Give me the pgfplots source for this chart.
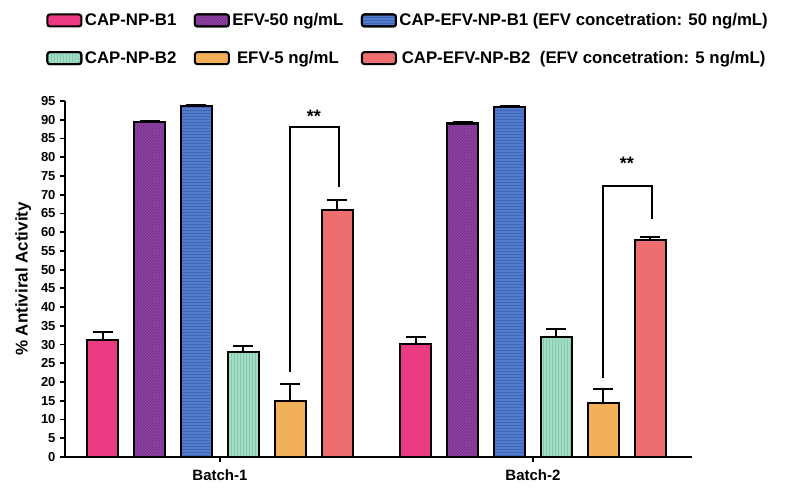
\documentclass[border=0pt]{standalone}
\usepackage{fontspec}
\setmainfont{Liberation Sans}
\usepackage{pgfplots}
\pgfplotsset{compat=1.18}
\usetikzlibrary{patterns}
\definecolor{cpink}{RGB}{233,58,130}
\definecolor{cpurple}{RGB}{150,72,168}
\definecolor{cpurpled}{RGB}{120,50,140}
\definecolor{cblue}{RGB}{82,122,205}
\definecolor{cblued}{RGB}{65,100,185}
\definecolor{cgreen}{RGB}{162,222,196}
\definecolor{cgreend}{RGB}{135,200,172}
\definecolor{corange}{RGB}{242,176,88}
\definecolor{cred}{RGB}{236,110,110}
\pgfplotsset{
  mybar/.style={ybar, bar width=0.1, bar shift=0pt, draw=black, line width=2.3pt,
    error bars/y dir=plus, error bars/y explicit,
    error bars/error bar style={line width=2pt, black},
    error bars/error mark options={rotate=90, mark size=10pt, line width=2pt, black}},
}
\begin{document}
\begin{tikzpicture}
\begin{axis}[
  scale only axis, width=627pt, height=356pt,
  xmin=0.505, xmax=2.508, ymin=0, ymax=95,
  axis lines=left, axis line style={-, line width=2.2pt},
  xtick={1,2}, xticklabels={Batch-1,Batch-2},
  ytick={0,5,...,95},
  tick style={black, line width=1.8pt},
  major tick length=5pt,
  tick align=outside,
  /pgf/number format/assume math mode=true,
  yticklabel style={font=\bfseries\fontsize{13}{13}\selectfont, xshift=-1pt},
  xticklabel style={font=\bfseries\fontsize{15}{15}\selectfont, yshift=-4pt},
  ylabel={\% Antiviral Activity},
  ylabel shift=3pt,
  ylabel style={font=\bfseries\fontsize{17}{17}\selectfont},
  legend columns=3,
  legend style={draw=none, fill=none, inner sep=0pt, at={(-0.030,1.253)}, anchor=north west,
    nodes={inner sep=2.5pt},
    font=\bfseries\fontsize{16.8}{16.8}\selectfont,
    /tikz/every even column/.append style={column sep=15pt},
    row sep=19pt},
  legend image code/.code={\draw[#1, draw=black, line width=2pt, rounded corners=2.5pt] (0pt,-6pt) rectangle (34pt,6pt);},
]
% CAP-NP-B1
\addplot[mybar, fill=cpink] coordinates {(0.625,31.2) +- (0,2.1) (1.625,30.1) +- (0,2.0)};
\addlegendentry{CAP-NP-B1}
% EFV-50
\addplot[mybar, fill=cpurple, postaction={pattern=crosshatch, pattern color=cpurpled}] coordinates {(0.775,89.4) +- (0,0.3) (1.775,89.0) +- (0,0.4)};
\addlegendentry{EFV-50 ng/mL}
% CAP-EFV-NP-B1
\addplot[mybar, fill=cblue, postaction={pattern=horizontal lines, pattern color=cblued}] coordinates {(0.925,93.6) +- (0,0.3) (1.925,93.4) +- (0,0.3)};
\addlegendentry{CAP-EFV-NP-B1 (EFV concetration: 50 ng/mL)}
% CAP-NP-B2
\addplot[mybar, fill=cgreen, postaction={pattern=vertical lines, pattern color=cgreend}] coordinates {(1.075,28.1) +- (0,1.5) (2.075,32.1) +- (0,2.0)};
\addlegendentry{CAP-NP-B2}
% EFV-5
\addplot[mybar, fill=corange] coordinates {(1.225,15.0) +- (0,4.5) (2.225,14.5) +- (0,3.6)};
\addlegendentry{EFV-5 ng/mL}
% CAP-EFV-NP-B2
\addplot[mybar, fill=cred] coordinates {(1.375,65.9) +- (0,2.6) (2.375,58.0) +- (0,0.7)};
\addlegendentry{CAP-EFV-NP-B2\ \ (EFV concetration: 5 ng/mL)}
% significance brackets
\addplot[black, line width=2pt, sharp plot, mark=none, forget plot] coordinates {(1.225,22.7) (1.225,88.0) (1.38,88.0) (1.38,72.0)};
\addplot[black, line width=2pt, sharp plot, mark=none, forget plot] coordinates {(2.225,21.0) (2.225,72.3) (2.38,72.3) (2.38,63.5)};
\node[font=\bfseries\fontsize{18}{18}\selectfont] at (axis cs:1.30,91.0) {**};
\node[font=\bfseries\fontsize{18}{18}\selectfont] at (axis cs:2.30,78.3) {**};
\end{axis}
\pgfresetboundingbox
\path[use as bounding box] (current axis.south west) ++(-65pt,-32pt) rectangle ++(785pt,489pt);
\end{tikzpicture}
\end{document}
